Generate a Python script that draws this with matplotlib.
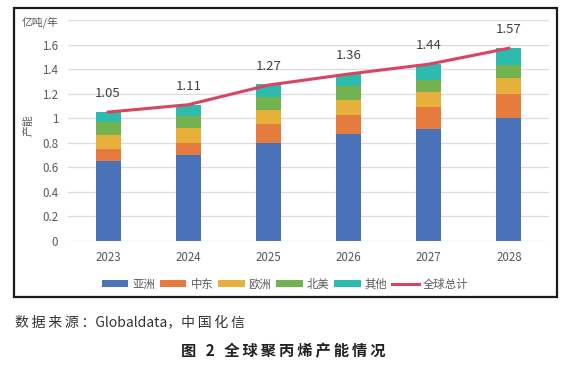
import matplotlib.pyplot as plt
import numpy as np
from matplotlib.patches import Rectangle

plt.rcParams['font.family'] = ['Noto Sans CJK SC', 'DejaVu Sans']

years = ['2023', '2024', '2025', '2026', '2027', '2028']
regions = ['亚洲', '中东', '欧洲', '北美', '其他']
asia = [0.65, 0.70, 0.80, 0.87, 0.91, 1.00]
mideast = [0.10, 0.10, 0.15, 0.16, 0.18, 0.20]
europe = [0.115, 0.12, 0.115, 0.12, 0.12, 0.125]
namerica = [0.105, 0.10, 0.11, 0.11, 0.105, 0.11]
others = [0.08, 0.09, 0.105, 0.10, 0.125, 0.135]
total = [1.05, 1.11, 1.27, 1.36, 1.44, 1.57]

colors = ['#4A72B8', '#E57B3E', '#E6B03A', '#72B24F', '#2DBBAE']
line_color = '#D94560'
text_color = '#595959'

fig = plt.figure(figsize=(5.67, 3.69), dpi=100)
ax = fig.add_axes([68 / 567, 1 - 241 / 369, 481 / 567, 221 / 369])

x = np.arange(len(years))
bottom = np.zeros(len(years))
handles = []
for name, vals, c in zip(regions, [asia, mideast, europe, namerica, others], colors):
    b = ax.bar(x, vals, 0.31, bottom=bottom, color=c, label=name, zorder=2)
    handles.append(b)
    bottom += np.array(vals)

ln, = ax.plot(x, total, color=line_color, lw=2.2, label='全球总计', zorder=3)
handles.append(ln)
for xi, t in zip(x, total):
    ax.annotate(f'{t:.2f}', (xi, t), xytext=(0, 8.5), textcoords='offset points',
                ha='center', va='bottom', fontsize=9.5, color='#404040')

ax.set_xlim(-0.5, 5.5)
ax.set_ylim(0, 1.8)
ax.set_yticks(np.arange(0, 1.81, 0.2))
ax.set_yticklabels(['0', '0.2', '0.4', '0.6', '0.8', '1', '1.2', '1.4', '1.6', ''])
ax.set_xticks(x)
ax.set_xticklabels(years)
ax.tick_params(length=0, labelsize=8.3, colors=text_color, pad=7)
ax.grid(axis='y', color='#E0DADA', lw=0.9, zorder=0)
for s in ax.spines.values():
    s.set_visible(False)

fig.text(40 / 567, 1 - 22 / 369, '亿吨/年', ha='center', va='center', fontsize=7.8, color=text_color)
fig.text(29 / 567, 1 - 125 / 369, '产能', ha='center', va='center', rotation=90, fontsize=7.8, color=text_color)

fig.legend(handles=handles, loc='center', bbox_to_anchor=(0.503, 1 - 284 / 369), ncol=6, frameon=False,
           fontsize=8.2, handlelength=2.3, handleheight=0.6, columnspacing=0.45, handletextpad=0.35,
           labelcolor=text_color)

fig.add_artist(Rectangle((14 / 567, 1 - 297 / 369), 543 / 567, 289 / 369, transform=fig.transFigure,
                         fill=False, edgecolor='#1A1A1A', lw=1.6))

ts = '\u2009'
fig.text(15 / 567, 1 - 323 / 369, ts.join('数据来源：') + 'Globaldata，' + ts.join('中国化信'),
         ha='left', va='center', fontsize=10, color='#333333')
fig.text(0.5, 1 - 351 / 369, ts.join('图 2 全球聚丙烯产能情况'), ha='center', va='center',
         fontsize=11, fontweight='bold', color='#222222')

fig.savefig('out.png', dpi=100)
